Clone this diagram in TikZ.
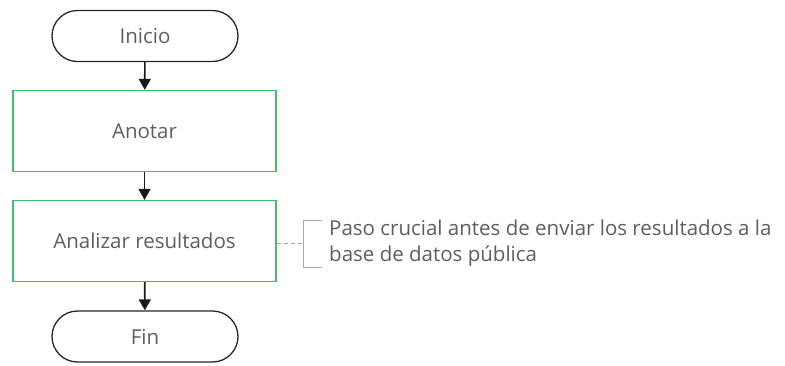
\documentclass[tikz,border=0pt]{standalone}
\usepackage{fontspec}
\setmainfont{Open Sans}
\usetikzlibrary{arrows.meta}
\definecolor{boxgreen}{HTML}{3CC36A}
\definecolor{txtgray}{HTML}{5E5E5E}
\definecolor{notegray}{HTML}{A8A8A8}
\tikzset{
  terminal/.style={draw=black!85, line width=1.3pt, rounded corners=25.5pt, minimum width=186pt, minimum height=51pt, text=txtgray, font=\fontsize{20.5}{24}\selectfont, inner sep=0pt},
  procbox/.style={draw=boxgreen, line width=1.3pt, minimum width=263pt, minimum height=81pt, text=txtgray, font=\fontsize{20.5}{24}\selectfont, inner sep=0pt},
  flow/.style={-{Triangle[length=11pt,width=12pt]}, line width=1.6pt, black!90},
  notetext/.style={text=txtgray, font=\fontsize{20.5}{26}\selectfont, align=left, inner sep=0pt, anchor=west},
  noteline/.style={draw=notegray, line width=1pt}
}
\begin{document}
\begin{tikzpicture}[x=1pt,y=-1pt]
\useasboundingbox (0,0) rectangle (785,365);
\node[terminal] (inicio) at (145,36) {Inicio};
\node[procbox] (anotar) at (144.5,131) {Anotar};
\node[procbox] (analizar) at (144.5,241) {Analizar resultados};
\node[terminal] (fin) at (145,336.5) {Fin};
\draw[flow] (inicio) -- (anotar);
\draw[flow] (anotar) -- (analizar);
\draw[flow] (analizar) -- (fin);
\coordinate (bmid) at (303,243);
\draw[noteline] (322,220) -- (303,220) -- (303,267) -- (322,267);
\draw[noteline, dashed, dash pattern=on 4pt off 3pt] (analizar.east |- bmid) -- (bmid);
\node[notetext] (note) at (329,243) {Paso crucial antes de enviar los resultados a la\\base de datos pública};
\end{tikzpicture}
\end{document}
